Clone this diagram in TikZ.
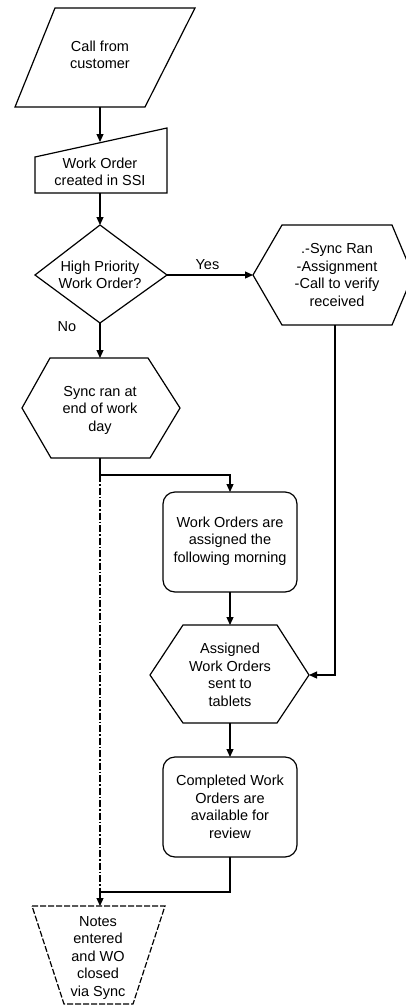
\documentclass[tikz,border=0pt]{standalone}
\usepackage{fontspec}
\setmainfont{Liberation Sans}
\usetikzlibrary{arrows.meta}
\begin{document}
\begin{tikzpicture}[x=1pt,y=-1pt,
  shp/.style={draw=black, line width=1.2pt, line join=miter},
  lbl/.style={align=center, font=\fontsize{14.5}{17.5}\selectfont, inner sep=0pt},
  con/.style={line width=1.2pt},
  arr/.style={con, -{Triangle[length=8pt,width=7pt]}},
]
\useasboundingbox (0,0) rectangle (406,1007);
\fill[white] (0,0) rectangle (406,1007);

% Call from customer (parallelogram)
\draw[shp] (55,8) -- (195,8) -- (145,107) -- (15,107) -- cycle;
\node[lbl] (call) at (100,55) {Call from\\customer};
\coordinate (callS) at (100,107);

% Work Order created in SSI (manual input)
\draw[shp] (35,157) -- (167,128) -- (167,193) -- (35,193) -- cycle;
\node[lbl] (wo) at (100,172) {Work Order\\created in SSI};
\coordinate (woN) at (100,142);
\coordinate (woS) at (100,193);

% Decision
\draw[shp] (100,225) -- (167,275) -- (100,323) -- (35,275) -- cycle;
\node[lbl] (dec) at (100,275) {High Priority\\Work Order?};
\coordinate (decN) at (100,225);
\coordinate (decE) at (167,275);
\coordinate (decS) at (100,323);

% High priority hexagon (clipped at right edge)
\begin{scope}
\clip (0,0) rectangle (406,1007);
\draw[shp] (253,275) -- (282,225) -- (392,225) -- (413,275) -- (392,325) -- (282,325) -- cycle;
\end{scope}
\node[lbl] (hp) at (337,275) {.-Sync Ran\\-Assignment\\-Call to verify\\received};
\coordinate (hpW) at (253,275);
\coordinate (hpS) at (335,325);

% Sync ran at end of work day
\draw[shp] (22,408) -- (50,358) -- (148,358) -- (180,408) -- (150,458) -- (51,458) -- cycle;
\node[lbl] (sync) at (100,410) {Sync ran at\\end of work\\day};
\coordinate (syncN) at (100,358);
\coordinate (syncS) at (100,458);

% Work Orders are assigned
\draw[shp, rounded corners=12pt] (163,492) rectangle (297,592);
\node[lbl] (assign) at (230,541) {Work Orders are\\assigned the\\following morning};
\coordinate (assignN) at (230,492);
\coordinate (assignS) at (230,592);

% Assigned Work Orders sent to tablets
\draw[shp] (150,675) -- (183,625) -- (277,625) -- (309,675) -- (277,723) -- (183,723) -- cycle;
\node[lbl] (sent) at (230,675) {Assigned\\Work Orders\\sent to\\tablets};
\coordinate (sentN) at (230,625);
\coordinate (sentE) at (309,675);
\coordinate (sentS) at (230,723);

% Completed Work Orders
\draw[shp, rounded corners=12pt] (163,757) rectangle (297,857);
\node[lbl] (done) at (230,807) {Completed Work\\Orders are\\available for\\review};
\coordinate (doneN) at (230,757);
\coordinate (doneS) at (230,857);

% Notes entered (trapezoid)
\draw[shp, dash pattern=on 6pt off 2pt] (32,906) -- (165,906) -- (133,1004) -- (64,1004) -- cycle;
\node[lbl] (notes) at (98,958) {Notes\\entered\\and WO\\closed\\via Sync};
\coordinate (notesN) at (100,906);

% Connectors
\draw[arr] (callS) -- (woN);
\draw[arr] (woS) -- (decN);
\draw[arr] (decE) -- (hpW) node[lbl, pos=0.47, above=5pt] (yes) {Yes};
\draw[arr] (decS) -- (syncN);
\node[lbl] (no) at (67,327) {No};

\coordinate (hpTurn) at (335,675);
\draw[arr] (hpS) -- (hpTurn) -- (sentE);

\coordinate (branch) at (100,475);
\coordinate (branchR) at (230,475);
\draw[con] (syncS) -- (branch);
\draw[arr] (branch) -- (branchR) -- (assignN);
\draw[con, dash pattern=on 7pt off 2pt on 1.5pt off 2pt] (branch) -- (100,892);

\draw[arr] (assignS) -- (sentN);
\draw[arr] (sentS) -- (doneN);

\coordinate (mergeR) at (230,892);
\coordinate (merge) at (100,892);
\draw[arr] (doneS) -- (mergeR) -- (merge) -- (notesN);
\end{tikzpicture}
\end{document}
